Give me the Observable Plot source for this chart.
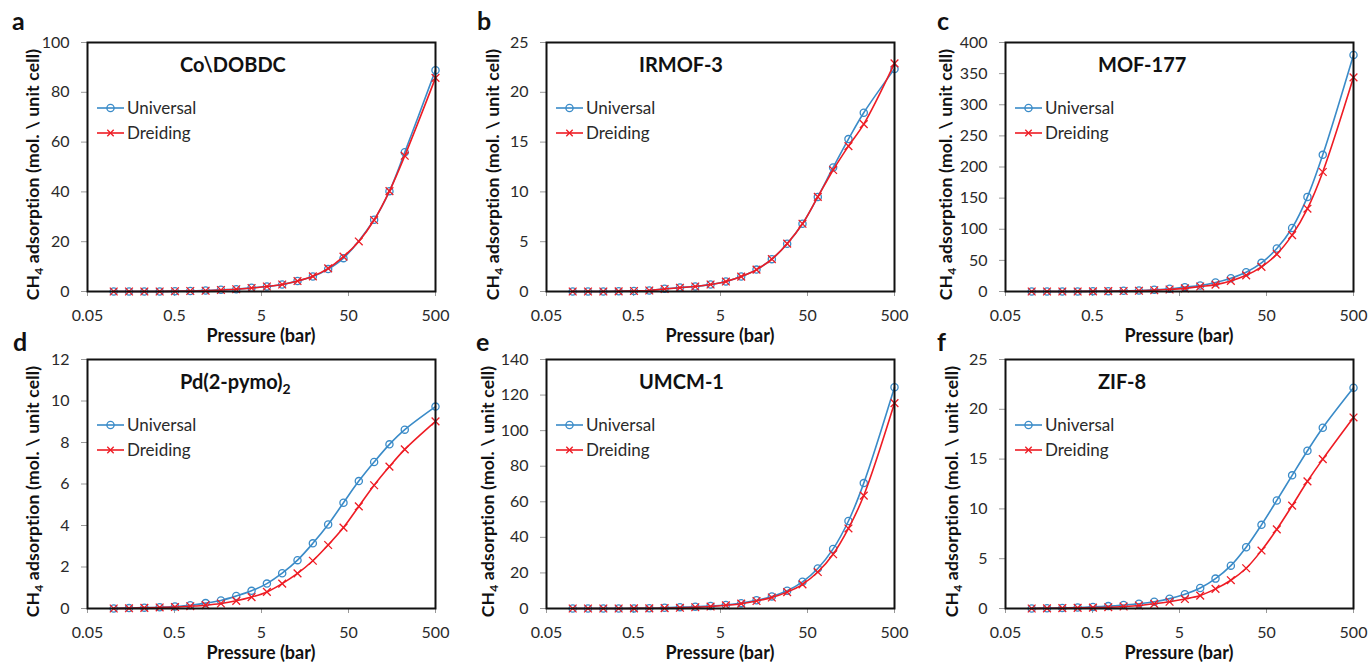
<!DOCTYPE html>
<html>
<head>
<meta charset="utf-8">
<script src="https://cdn.jsdelivr.net/npm/d3@7"></script>
<script src="https://cdn.jsdelivr.net/npm/@observablehq/plot@0.6"></script>
<style>
  body { margin: 0; background: #fff; }
  #chart { position: relative; width: 1369px; height: 662px; overflow: hidden; font-family: Lato, "Open Sans", sans-serif; }
  #chart svg { position: absolute; overflow: visible; }
</style>
</head>
<body>
<div id="chart"></div>
<script>
// ---------- data ----------
const pressure = [0.1, 0.15, 0.225, 0.3375, 0.506, 0.759, 1.139, 1.709, 2.563, 3.844, 5.767, 8.65, 12.97, 19.46, 29.19, 43.79, 65.68, 98.53, 147.8, 221.7, 500];
const xTickLabels = ["0.05", "0.5", "5", "50", "500"];
const seriesNames = ["Universal", "Dreiding"];
const panelLetters = ["a", "b", "c", "d", "e", "f"];
const panelTitles = [["Co\\DOBDC", ""], ["IRMOF-3", ""], ["MOF-177", ""], ["Pd(2-pymo)", "2"], ["UMCM-1", ""], ["ZIF-8", ""]];
const yMaxes = [100, 25, 400, 12, 140, 25];
const ySteps = [20, 5, 50, 2, 20, 5];

const universalA = [0, 0, 0, 0, 0.1, 0.2, 0.4, 0.7, 0.9, 1.5, 2.0, 2.8, 4.2, 6.0, 9.0, 13.4, null, 28.8, 40.3, 55.9, 88.9];
const dreidingA  = [0, 0, 0, 0, 0.1, 0.2, 0.3, 0.6, 0.9, 1.4, 2.0, 2.8, 4.2, 6.1, 9.3, 14.0, 20.1, 28.7, 40.3, 54.5, 85.8];
const universalB = [0, 0, 0, 0.02, 0.05, 0.1, 0.27, 0.4, 0.5, 0.7, 1.0, 1.5, 2.2, 3.25, 4.8, 6.8, 9.5, 12.45, 15.3, 17.95, 22.35];
const dreidingB  = [0, 0, 0, 0.02, 0.05, 0.1, 0.25, 0.38, 0.5, 0.7, 1.0, 1.5, 2.2, 3.25, 4.8, 6.8, 9.5, 12.2, 14.6, 16.8, 22.9];
const universalC = [0, 0, 0, 0, 0.5, 0.5, 1.1, 1.6, 2.7, 4.3, 7.0, 9.6, 14.5, 21.4, 31, 46, 69, 102, 152, 219.5, 380];
const dreidingC  = [0, 0, 0, 0, 0.3, 0.5, 0.8, 1.2, 2.0, 3.2, 5.0, 8.0, 11, 17, 26, 39.6, 60, 90.5, 133, 192, 344];
const universalD = [0, 0.02, 0.04, 0.06, 0.1, 0.16, 0.26, 0.39, 0.6, 0.85, 1.2, 1.7, 2.33, 3.14, 4.05, 5.1, 6.14, 7.06, 7.91, 8.62, 9.73];
const dreidingD  = [0, 0.01, 0.03, 0.05, 0.07, 0.11, 0.16, 0.24, 0.37, 0.55, 0.8, 1.2, 1.69, 2.3, 3.06, 3.9, 4.92, 5.94, 6.84, 7.67, 9.02];
const universalE = [0, 0, 0, 0, 0.05, 0.1, 0.4, 0.75, 1.0, 1.4, 2.0, 3.0, 4.6, 6.8, 10.0, 15.0, 22.5, 33.5, 49.2, 70.5, 124.4];
const dreidingE  = [0, 0, 0, 0, 0.05, 0.1, 0.2, 0.4, 0.7, 1.1, 1.8, 2.7, 4.2, 6.2, 9.2, 13.6, 20.5, 30.5, 45, 63.5, 115.5];
const universalF = [0, 0.03, 0.06, 0.1, 0.16, 0.24, 0.35, 0.48, 0.68, 0.99, 1.43, 2.06, 3.0, 4.3, 6.15, 8.4, 10.85, 13.37, 15.84, 18.15, 22.16];
const dreidingF  = [0, 0.02, 0.04, 0.06, 0.09, 0.13, 0.2, 0.3, 0.47, 0.68, 0.95, 1.3, 1.97, 2.84, 4.04, 5.82, 7.95, 10.33, 12.77, 15.0, 19.18];

const universalAll = [universalA, universalB, universalC, universalD, universalE, universalF];
const dreidingAll = [dreidingA, dreidingB, dreidingC, dreidingD, dreidingE, dreidingF];

// ---------- layout / style ----------
const BLUE = "#3a8bc8", RED = "#ee1c24";
const colLefts = [87, 546, 1005], rowTops = [42, 359];
const PW = 348, PH = 249;
const ML = 87, MT = 42, MB = 52, MR = 18;
const letterPos = [[12, 30], [18, 30], [19, 30], [13, 34], [17, 34], [19, 34]];
const yLabelX = [33, 34, 28, 33, 29, 34];
const FONT = "Lato, 'Open Sans', sans-serif";

const xTicks = xTickLabels.map(Number);
const chart = document.getElementById("chart");

panelLetters.forEach((letter, i) => {
  const col = i % 3, row = Math.floor(i / 3);
  const toRows = arr => pressure.map((p, k) => ({p, v: arr[k]})).filter(d => d.v != null);
  const uni = toRows(universalAll[i]);
  const dre = toRows(dreidingAll[i]);
  const yTicks = d3.range(0, yMaxes[i] + ySteps[i] / 2, ySteps[i]);

  const svg = Plot.plot({
    width: ML + PW + MR, height: MT + PH + MB,
    marginLeft: ML, marginRight: MR, marginTop: MT, marginBottom: MB,
    style: {fontFamily: FONT, fontSize: "16px", color: "#2a2a2a", background: "transparent", overflow: "visible"},
    x: {type: "log", domain: [0.05, 500], ticks: xTicks, tickFormat: d => xTickLabels[xTicks.findIndex(t => Math.abs(t - d) < 1e-9)] ?? "", tickSize: 5, tickPadding: 13, label: null},
    y: {domain: [0, yMaxes[i]], ticks: yTicks, tickSize: 6, tickPadding: 12, label: null},
    marks: [
      Plot.line(uni, {x: "p", y: "v", stroke: BLUE, strokeWidth: 1.6, curve: "catmull-rom"}),
      Plot.dot(uni, {x: "p", y: "v", r: 3.6, stroke: BLUE, strokeWidth: 1.3, fill: "none"}),
      Plot.line(dre, {x: "p", y: "v", stroke: RED, strokeWidth: 1.6, curve: "catmull-rom"}),
      Plot.dot(dre, {x: "p", y: "v", r: 3.6, symbol: "times", stroke: RED, strokeWidth: 1.3}),
      Plot.frame({stroke: "#111", strokeWidth: 2})
    ]
  });
  svg.style.left = (colLefts[col] - ML) + "px";
  svg.style.top = (rowTops[row] - MT) + "px";

  const s = d3.select(svg);
  // grey tick marks like the original
  s.selectAll('g[aria-label$="axis tick"]').attr("stroke", "#999");
  // make sure the log-axis tick labels carry the original text
  s.selectAll('g[aria-label="x-axis tick label"] text').each(function (_, k) {
    if (!this.textContent) this.textContent = xTickLabels[k];
  });

  const g = s.append("g").attr("font-family", FONT).attr("text-anchor", "start");
  // panel letter
  g.append("text").attr("x", letterPos[i][0]).attr("y", letterPos[i][1])
    .attr("font-size", 25).attr("font-weight", 700).attr("fill", "#111").text(letter);
  // title
  const t = g.append("text").attr("x", ML + 93).attr("y", MT + 30)
    .attr("font-size", 20).attr("font-weight", 700).attr("fill", "#111");
  t.append("tspan").text(panelTitles[i][0]);
  if (panelTitles[i][1]) t.append("tspan").attr("dy", 5).attr("font-size", 14).text(panelTitles[i][1]);
  // legend
  const legColors = [BLUE, RED];
  seriesNames.forEach((name, k) => {
    const ly = MT + 66 + k * 25;
    g.append("line").attr("x1", ML + 10).attr("x2", ML + 37).attr("y1", ly).attr("y2", ly)
      .attr("stroke", legColors[k]).attr("stroke-width", 1.6);
    if (k === 0) {
      g.append("circle").attr("cx", ML + 23.5).attr("cy", ly).attr("r", 3.6)
        .attr("fill", "none").attr("stroke", BLUE).attr("stroke-width", 1.3);
    } else {
      const cx = ML + 23.5, sz = 3.2;
      g.append("path").attr("d", `M${cx - sz},${ly - sz}L${cx + sz},${ly + sz}M${cx - sz},${ly + sz}L${cx + sz},${ly - sz}`)
        .attr("stroke", RED).attr("stroke-width", 1.3);
    }
    g.append("text").attr("x", ML + 40).attr("y", ly).attr("dy", "0.35em")
      .attr("font-size", 17).attr("fill", "#2a2a2a").text(name);
  });
  // y label
  const yl = g.append("text").attr("transform", `translate(${yLabelX[i]},${MT + PH / 2 + 8}) rotate(-90)`)
    .attr("text-anchor", "middle").attr("dy", "0.35em")
    .attr("font-size", 17.5).attr("font-weight", 700).attr("fill", "#111").attr("letter-spacing", 0.2);
  yl.append("tspan").text("CH");
  yl.append("tspan").attr("dy", 4).attr("font-size", 12).text("4");
  yl.append("tspan").attr("dy", -4).text(" adsorption (mol. \\ unit cell)");
  // x label
  g.append("text").attr("x", ML + PW / 2).attr("y", MT + PH + 45).attr("dy", "0.35em")
    .attr("text-anchor", "middle").attr("font-size", 18).attr("font-weight", 700).attr("fill", "#111")
    .text("Pressure (bar)");

  chart.appendChild(svg);
});
</script>
</body>
</html>
